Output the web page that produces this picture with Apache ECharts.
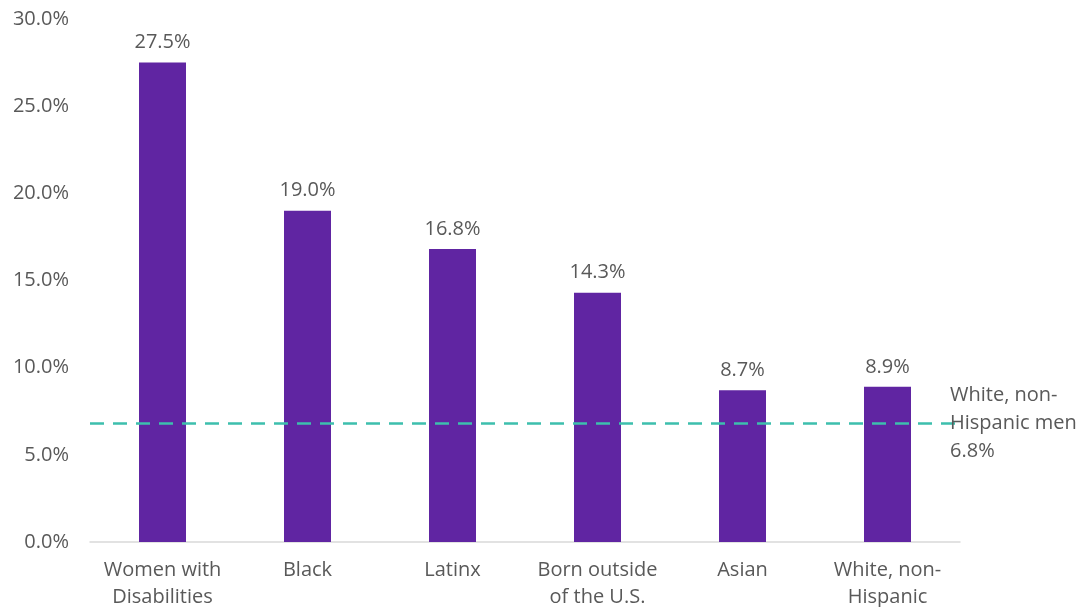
<!DOCTYPE html>
<html><head><meta charset="utf-8">
<script src="https://cdn.jsdelivr.net/npm/echarts@6/dist/echarts.min.js"></script>
<style>html,body{margin:0;padding:0;background:#fff}#c{width:1080px;height:607px}</style>
</head><body><div id="c"></div>
<script>
const categories = ['Women with\nDisabilities', 'Black', 'Latinx', 'Born outside\nof the U.S.', 'Asian', 'White, non-\nHispanic'];
const values = [27.5, 19.0, 16.8, 14.3, 8.7, 8.9];
const referenceValue = 6.8;
const referenceLabel = 'White, non-\nHispanic men\n6.8%';
const yTicks = [0, 5, 10, 15, 20, 25, 30];

const font = '"Open Sans", "Noto Sans", sans-serif';
const chart = echarts.init(document.getElementById('c'));
chart.setOption({
  animation: false,
  grid: { left: 90, right: 120, top: 19, bottom: 65, outerBoundsMode: 'none', containLabel: false },
  xAxis: {
    type: 'category', data: categories,
    axisTick: { show: false },
    axisLine: { lineStyle: { color: '#d9d9d9', width: 1.5 } },
    axisLabel: { color: '#595959', fontSize: 20, fontFamily: font, lineHeight: 27, margin: 15, interval: 0 }
  },
  yAxis: {
    type: 'value', min: yTicks[0], max: yTicks[yTicks.length - 1], interval: 5,
    splitLine: { show: false },
    axisLine: { show: false }, axisTick: { show: false },
    axisLabel: { color: '#595959', fontSize: 20, fontFamily: font, margin: 21, formatter: v => v.toFixed(1) + '%' }
  },
  series: [{
    type: 'bar', data: values, barWidth: 47,
    itemStyle: { color: '#6025A2' },
    label: { show: true, position: 'top', distance: 10, color: '#595959', fontSize: 20, fontFamily: font, formatter: p => p.value.toFixed(1) + '%' },
    markLine: {
      symbol: 'none', silent: true,
      lineStyle: { color: '#3DBFAD', type: [14, 9], width: 2.5 },
      label: { show: true, position: 'end', distance: -10, formatter: referenceLabel, color: '#595959', fontSize: 20, fontFamily: font, lineHeight: 28, align: 'left' },
      data: [{ yAxis: referenceValue }]
    }
  }]
});
</script></body></html>
